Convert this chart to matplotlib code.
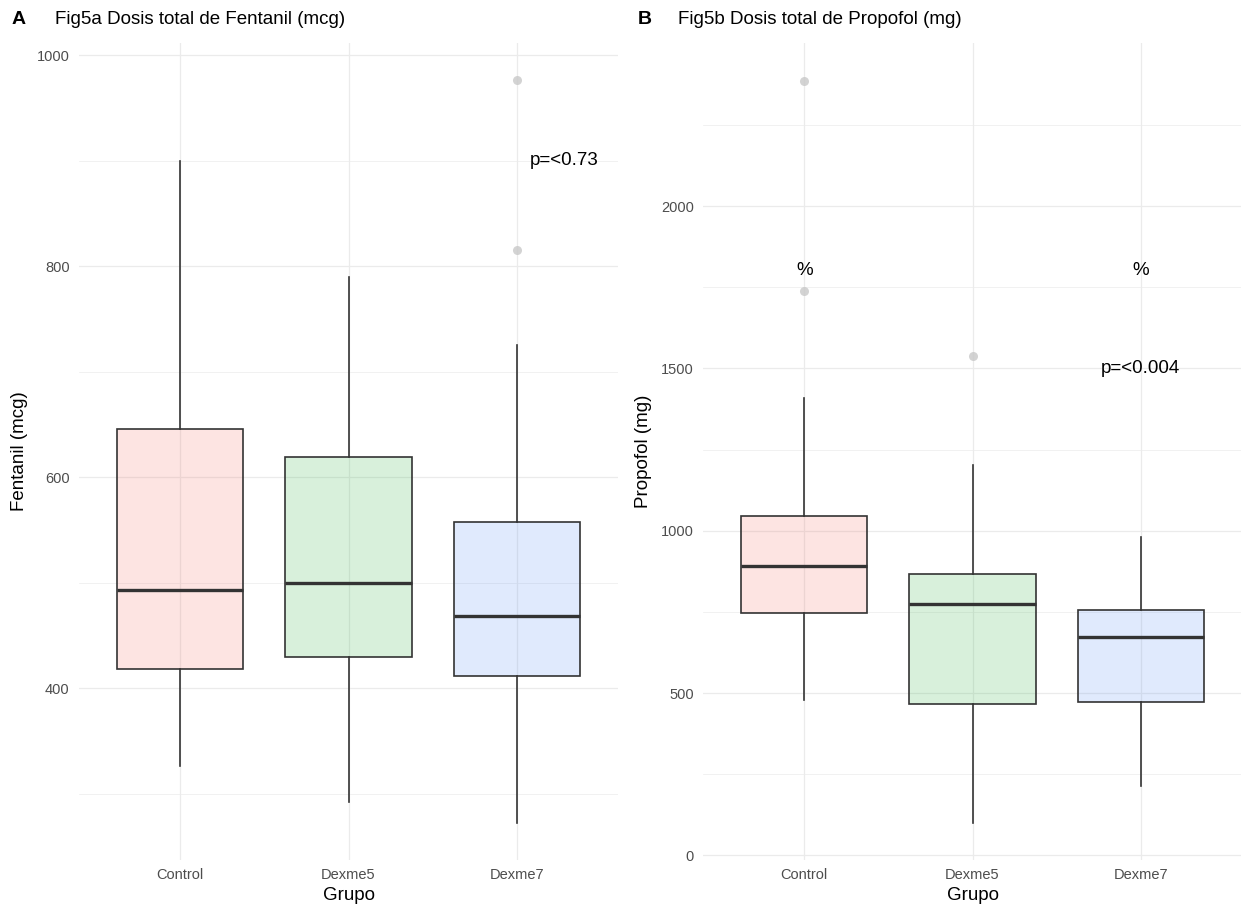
import matplotlib

matplotlib.use("Agg")
import matplotlib.pyplot as plt
from matplotlib.colors import to_rgba

plt.rcParams["font.family"] = ["Liberation Sans", "DejaVu Sans"]

W, H = 1241, 906

# ---- data ----
grupos = ["Control", "Dexme5", "Dexme7"]
box_fills = ["#F5786F", "#3DB64F", "#6496F5"]

# Fig5a fentanil (mcg)
fen_q1 = [418, 429, 411]
fen_med = [493, 500, 468]
fen_q3 = [646, 619, 557]
fen_lo = [326, 292, 272]
fen_hi = [900, 790, 725]
fen_out = [[], [], [976, 815]]

# Fig5b propofol (mg)
pro_q1 = [746, 466, 472]
pro_med = [890, 774, 672]
pro_q3 = [1045, 867, 756]
pro_lo = [479, 101, 215]
pro_hi = [1408, 1202, 980]
pro_out = [[2386, 1739], [1538], []]


def fx(px):
    return px / W


def fy(py):
    return 1 - py / H


def stats(q1, med, q3, lo, hi, out):
    return [dict(q1=a, med=b, q3=c, whislo=d, whishi=e, fliers=f, label=g)
            for a, b, c, d, e, f, g in zip(q1, med, q3, lo, hi, out, grupos)]


def draw_panel(ax, st, ylim, major, minor, ylabel):
    ax.set_xlim(0.4, 3.6)
    ax.set_ylim(*ylim)
    ax.set_yticks(major)
    ax.set_yticks(minor, minor=True)
    ax.set_xticks([1, 2, 3])
    ax.grid(True, which="major", color="#EBEBEB", lw=0.9)
    ax.grid(True, which="minor", axis="y", color="#EBEBEB", lw=0.5)
    ax.set_axisbelow(True)
    for s in ax.spines.values():
        s.set_visible(False)
    ax.tick_params(which="both", length=0, labelsize=10.5, labelcolor="#4D4D4D")
    ax.tick_params(axis="y", pad=7)
    ax.tick_params(axis="x", pad=6)

    bp = ax.bxp(st, positions=[1, 2, 3], widths=0.75, patch_artist=True,
                showcaps=False, manage_ticks=False,
                boxprops=dict(lw=1.2, edgecolor="#333333"),
                whiskerprops=dict(lw=1.2, color="#333333"),
                medianprops=dict(lw=2.4, color="#333333"),
                flierprops=dict(marker="o", markersize=6.5, markerfacecolor="#C8C8C8",
                                markeredgecolor="none", alpha=0.8))
    for patch, c in zip(bp["boxes"], box_fills):
        patch.set_facecolor(to_rgba(c, 0.2))
        patch.set_edgecolor("#333333")
    ax.set_xticklabels(grupos)
    ax.set_xlabel("Grupo", fontsize=13.5, labelpad=3)
    ax.set_ylabel(ylabel, fontsize=13.5, labelpad=6)


fig = plt.figure(figsize=(W / 100, H / 100), dpi=100)
pw = 538.2
ax_a = fig.add_axes([fx(79.4), fy(860), pw / W, 817 / H])
ax_b = fig.add_axes([fx(703.4), fy(860), pw / W, 817 / H])

draw_panel(ax_a, stats(fen_q1, fen_med, fen_q3, fen_lo, fen_hi, fen_out),
           (237, 1011.4), [400, 600, 800, 1000], [300, 500, 700, 900],
           "Fentanil (mcg)")
ax_a.text(3.28, 900, "p=<0.73", ha="center", va="center", fontsize=13.5)

draw_panel(ax_b, stats(pro_q1, pro_med, pro_q3, pro_lo, pro_hi, pro_out),
           (-14, 2502), [0, 500, 1000, 1500, 2000], [250, 750, 1250, 1750, 2250],
           "Propofol (mg)")
ax_b.text(1, 1800, "%", ha="center", va="center", fontsize=13.5)
ax_b.text(3, 1800, "%", ha="center", va="center", fontsize=13.5)
ax_b.text(3, 1500, "p=<0.004", ha="center", va="center", fontsize=13.5)

fig.text(fx(12), fy(20), "A", fontsize=14, fontweight="bold", va="center")
fig.text(fx(55), fy(20), "Fig5a Dosis total de Fentanil (mcg)", fontsize=13.5, va="center")
fig.text(fx(638), fy(20), "B", fontsize=14, fontweight="bold", va="center")
fig.text(fx(678), fy(20), "Fig5b Dosis total de Propofol (mg)", fontsize=13.5, va="center")

fig.savefig("out.png", dpi=100, facecolor="white")
